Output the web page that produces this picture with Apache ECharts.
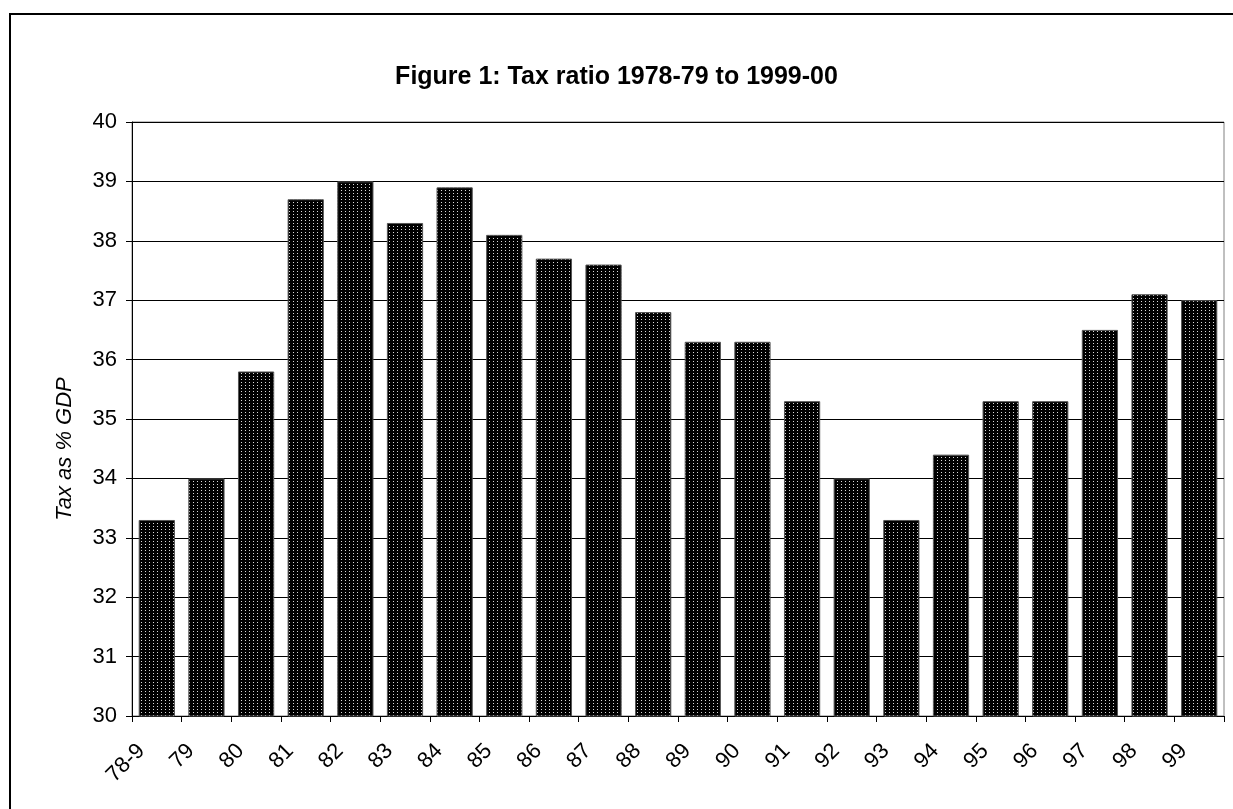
<!DOCTYPE html>
<html>
<head>
<meta charset="utf-8">
<script src="https://cdn.jsdelivr.net/npm/echarts@6/dist/echarts.min.js"></script>
<style>
  html, body { margin: 0; padding: 0; background: #fff; }
  #chart { width: 1233px; height: 809px; }
</style>
</head>
<body>
<div id="chart"></div>
<script>
const years = ['78-9', '79', '80', '81', '82', '83', '84', '85', '86', '87', '88',
  '89', '90', '91', '92', '93', '94', '95', '96', '97', '98', '99']
const taxRatio = [33.3, 34.0, 35.8, 38.7, 39.0, 38.3, 38.9, 38.1, 37.7, 37.6, 36.8,
  36.3, 36.3, 35.3, 34.0, 33.3, 34.4, 35.3, 35.3, 36.5, 37.1, 37.0]
const yTicks = [30, 31, 32, 33, 34, 35, 36, 37, 38, 39, 40]

const font = 'Liberation Sans, Arial, sans-serif'

// dotted dark fill like the old Excel pattern
const makePattern = () => {
  const c = document.createElement('canvas')
  c.width = 4
  c.height = 3
  const ctx = c.getContext('2d')
  ctx.fillStyle = '#000'
  ctx.fillRect(0, 0, 4, 3)
  ctx.fillStyle = '#d8d8d8'
  ctx.fillRect(1, 1, 1, 1)
  return c
}

const chart = echarts.init(document.getElementById('chart'))
chart.setOption({
  animation: false,
  title: {
    text: 'Figure 1: Tax ratio 1978-79 to 1999-00',
    left: 'center',
    top: 60,
    textStyle: { fontFamily: font, fontSize: 25, fontWeight: 'bold', color: '#000' }
  },
  graphic: [{
    type: 'rect',
    shape: { x: 10, y: 14, width: 1240, height: 820 },
    style: { fill: 'none', stroke: '#000', lineWidth: 2 },
    silent: true
  }],
  grid: {
    left: 132, right: 9, top: 122, bottom: 93,
    show: true, borderColor: '#808080', borderWidth: 1
  },
  xAxis: {
    type: 'category',
    data: years,
    boundaryGap: true,
    axisLine: { lineStyle: { color: '#000', width: 1 } },
    axisTick: { show: true, length: 6, alignWithLabel: false, lineStyle: { color: '#000' } },
    axisLabel: {
      rotate: 45, interval: 0, margin: 16, padding: [0, 22, 0, 0],
      fontFamily: font, fontSize: 22, color: '#000'
    }
  },
  yAxis: {
    type: 'value',
    min: yTicks[0],
    max: yTicks[yTicks.length - 1],
    interval: 1,
    name: 'Tax as % GDP',
    nameLocation: 'middle',
    nameGap: 56,
    nameTextStyle: {
      fontFamily: font, fontSize: 22, fontStyle: 'italic', color: '#000',
      padding: [0, 60, 0, 0]
    },
    axisLine: { show: true, lineStyle: { color: '#000', width: 1 } },
    axisTick: { show: true, length: 6, lineStyle: { color: '#000' } },
    axisLabel: { margin: 15, fontFamily: font, fontSize: 22, color: '#000' },
    splitLine: { show: true, lineStyle: { color: '#000', width: 1 } }
  },
  series: [{
    type: 'bar',
    data: taxRatio,
    barCategoryGap: '27%',
    itemStyle: {
      color: { image: makePattern(), repeat: 'repeat' },
      borderColor: '#555',
      borderWidth: 1
    }
  }]
})
</script>
</body>
</html>
